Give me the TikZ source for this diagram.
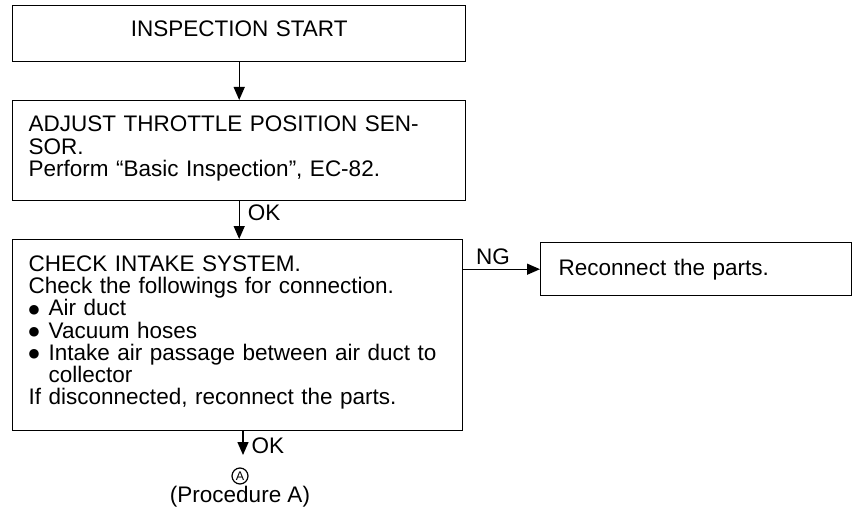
\documentclass[tikz,border=0pt]{standalone}
\usepackage{fontspec}
\setmainfont{Liberation Sans}
\newfontfamily\symfont{DejaVu Sans}
\usetikzlibrary{positioning,arrows.meta}

\newcommand{\itembullet}{\makebox[20pt][l]{\raisebox{2.5pt}{\symfont\fontsize{12.5}{12}\selectfont ●}}}
\newcommand{\deepstrut}[1]{\rule[-#1]{0pt}{1pt}}

\begin{document}
\begin{tikzpicture}[x=1pt,y=-1pt,
    stepbox/.style={draw, line width=1.4pt, anchor=north west, align=left,
        inner xsep=16pt, inner ysep=0pt, font=\fontsize{22.5}{22.3}\selectfont},
    flow/.style={line width=1.4pt, -{Triangle[length=13pt,width=11pt]}},
    lbl/.style={font=\fontsize{22.5}{22.3}\selectfont, inner sep=0pt}]

    \useasboundingbox (0,0) rectangle (853,513);

    % Main column of steps
    \node[stepbox, text width=421pt, minimum height=56pt, align=center] (start) at (12,5)
        {INSPECTION START\deepstrut{11pt}};
    \node[stepbox, text width=421pt, minimum height=100pt] (adjust) at (12,100)
        {ADJUST THROTTLE POSITION SEN-\\SOR.\\Perform “Basic Inspection”, EC-82.\deepstrut{9pt}};
    \node[stepbox, text width=418pt, minimum height=191pt] (check) at (12,239)
        {CHECK INTAKE SYSTEM.\\
         Check the followings for connection.\\
         \itembullet Air duct\\
         \itembullet Vacuum hoses\\
         \itembullet Intake air passage between air duct to\\
         \hspace*{20pt}collector\\
         If disconnected, reconnect the parts.\deepstrut{10pt}};

    % NG branch
    \node[stepbox, inner xsep=18pt, text width=275pt, minimum height=53pt] (reconnect) at (540,242) {Reconnect the parts.};

    % Connectors
    \draw[flow] (start) -- (adjust);
    \draw[flow] (adjust.south) -- (adjust.south |- check.north)
        node[lbl, anchor=west, pos=0.3, xshift=8pt] {OK};
    \draw[flow] (check.east |- reconnect.west) -- (reconnect.west)
        node[lbl, anchor=south west, pos=0, xshift=12pt, yshift=4pt] {NG};

    % Exit to procedure A
    \coordinate (tipA) at (243,455);
    \draw[flow] (tipA |- check.south) -- (tipA)
        node[lbl, anchor=west, pos=0.6, xshift=8pt] {OK};
    \node[draw, circle, line width=1.2pt, inner sep=0pt, minimum size=16pt,
        font=\fontsize{12.5}{12}\selectfont] (circA) at (240,476) {A};
    \node[lbl] (procA) at (240,497) {(Procedure A)};

\end{tikzpicture}
\end{document}
